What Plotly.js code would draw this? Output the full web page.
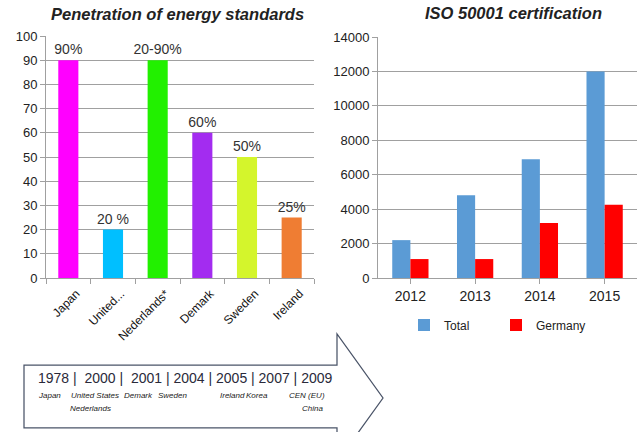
<!DOCTYPE html>
<html>
<head>
<meta charset="utf-8">
<script src="https://cdn.plot.ly/plotly-3.0.1.min.js"></script>
<style>html,body{margin:0;padding:0;background:#fff}#chart{width:644px;height:432px}</style>
</head>
<body>
<div id="chart"></div>
<script>
// ---- Data: penetration of energy standards ----
const countries = ["Japan", "United...", "Nederlands*", "Demark", "Sweden", "Ireland"];
const penetration = [90, 20, 90, 60, 50, 25];
const penetrationLabels = ["90%", "20 %", "20-90%", "60%", "50%", "25%"];
const countryColors = ["#ff00ff", "#00bfff", "#22f000", "#a32cf0", "#d4f52c", "#ef7d33"];

// ---- Data: ISO 50001 certification ----
const years = ["2012", "2013", "2014", "2015"];
const totalCerts = [2200, 4800, 6900, 12000];
const germanyCerts = [1100, 1100, 3200, 4250];

// ---- Timeline text ----
const timelineYears = "1978 |  2000 |  2001 | 2004 | 2005 | 2007 | 2009";
const timelineCountries = ["Japan", "United States", "Demark", "Sweden", "Ireland", "Korea", "CEN (EU)"];
const timelineCountries2 = ["Nederlands", "China"];

const W = 644, H = 432;
const px = x => x / W;
const py = y => 1 - y / H;

const font = "Liberation Sans, Arial, sans-serif";
const grid = "#a0a0a0";

const traces = [
  {
    type: "bar", x: countries, y: penetration, xaxis: "x", yaxis: "y",
    marker: {color: countryColors},
    text: penetrationLabels, textposition: "outside", cliponaxis: false, constraintext: "none",
    textfont: {size: 14, color: "#333", family: font},
    width: 0.45, showlegend: false, hoverinfo: "x+y"
  },
  {
    type: "bar", name: "Total", x: years, y: totalCerts, xaxis: "x2", yaxis: "y2",
    marker: {color: "#5b9bd5"}
  },
  {
    type: "bar", name: "Germany", x: years, y: germanyCerts, xaxis: "x2", yaxis: "y2",
    marker: {color: "#ff0000"}
  }
];

// timeline annotation positions (layout only)
const tcX = [36, 69, 122, 156, 218, 244, 287];
const annotations = [
  {text: "<b><i>Penetration of energy standards</i></b>", x: px(177), y: py(14), xref: "paper", yref: "paper",
   showarrow: false, font: {size: 16.5, color: "#222", family: font}, xanchor: "center", yanchor: "middle"},
  {text: "<b><i>ISO 50001 certification</i></b>", x: px(513), y: py(13), xref: "paper", yref: "paper",
   showarrow: false, font: {size: 16.5, color: "#222", family: font}, xanchor: "center", yanchor: "middle"},
  {text: timelineYears, x: px(36), y: py(378), xref: "paper", yref: "paper", showarrow: false,
   font: {size: 14, color: "#2a2a3a", family: font}, xanchor: "left", yanchor: "middle"}
];
timelineCountries.forEach((c, i) => annotations.push({
  text: "<i>" + c + "</i>", x: px(tcX[i]), y: py(395), xref: "paper", yref: "paper", showarrow: false,
  font: {size: 8, color: "#222", family: font}, xanchor: "left", yanchor: "middle"
}));
const tc2X = [68, 300];
timelineCountries2.forEach((c, i) => annotations.push({
  text: "<i>" + c + "</i>", x: px(tc2X[i]), y: py(408), xref: "paper", yref: "paper", showarrow: false,
  font: {size: 8, color: "#222", family: font}, xanchor: "left", yanchor: "middle"
}));

const arrowPts = [[24,365],[337,365],[337,334],[383,398],[337,462],[337,428],[24,428]];
const arrowPath = "M" + arrowPts.map(p => px(p[0]).toFixed(5) + "," + py(p[1]).toFixed(5)).join(" L") + " Z";

const layout = {
  width: W, height: H,
  margin: {l: 0, r: 0, t: 0, b: 0, pad: 0, autoexpand: false},
  paper_bgcolor: "#fff", plot_bgcolor: "#fff",
  font: {family: font, color: "#222"},
  barmode: "group", bargap: 0.44, bargroupgap: 0,
  xaxis: {
    domain: [px(46), px(314)], anchor: "y",
    showline: true, linecolor: grid, ticks: "outside", ticklen: 5, tickcolor: grid,
    tickson: "boundaries", tickangle: -45, tickfont: {size: 12, color: "#111", family: font},
    ticklabelshift: 8, ticklabelstandoff: 3,
    showgrid: false, fixedrange: true
  },
  yaxis: {
    domain: [py(278), py(36)], anchor: "x", range: [0, 100], dtick: 10,
    showgrid: true, gridcolor: grid, gridwidth: 1, showline: true, linecolor: grid,
    ticks: "outside", ticklen: 5, tickcolor: grid, zeroline: false,
    tickfont: {size: 13, color: "#222", family: font}
  },
  xaxis2: {
    domain: [px(378), px(637)], anchor: "y2",
    showline: true, linecolor: grid, ticks: "outside", ticklen: 5, tickcolor: grid,
    tickson: "boundaries", tickfont: {size: 14, color: "#222", family: font}, showgrid: false
  },
  yaxis2: {
    domain: [py(278), py(37)], anchor: "x2", range: [0, 14000], dtick: 2000, tickformat: "d",
    showgrid: true, gridcolor: grid, gridwidth: 1, showline: true, linecolor: grid,
    ticks: "outside", ticklen: 5, tickcolor: grid, zeroline: false,
    tickfont: {size: 13, color: "#222", family: font}
  },
  showlegend: true,
  legend: {
    orientation: "h", x: px(404), y: py(325), xanchor: "left", yanchor: "middle",
    font: {size: 12, color: "#222", family: font}, itemwidth: 30, entrywidth: 47, entrywidthmode: "pixels",
    bgcolor: "rgba(0,0,0,0)"
  },
  shapes: [
    {type: "path", xref: "paper", yref: "paper", path: arrowPath,
     line: {color: "#4a5468", width: 1.25}, fillcolor: "rgba(0,0,0,0)", layer: "below"}
  ],
  annotations: annotations
};

Plotly.newPlot("chart", traces, layout, {displayModeBar: false, staticPlot: true});
</script>
</body>
</html>
